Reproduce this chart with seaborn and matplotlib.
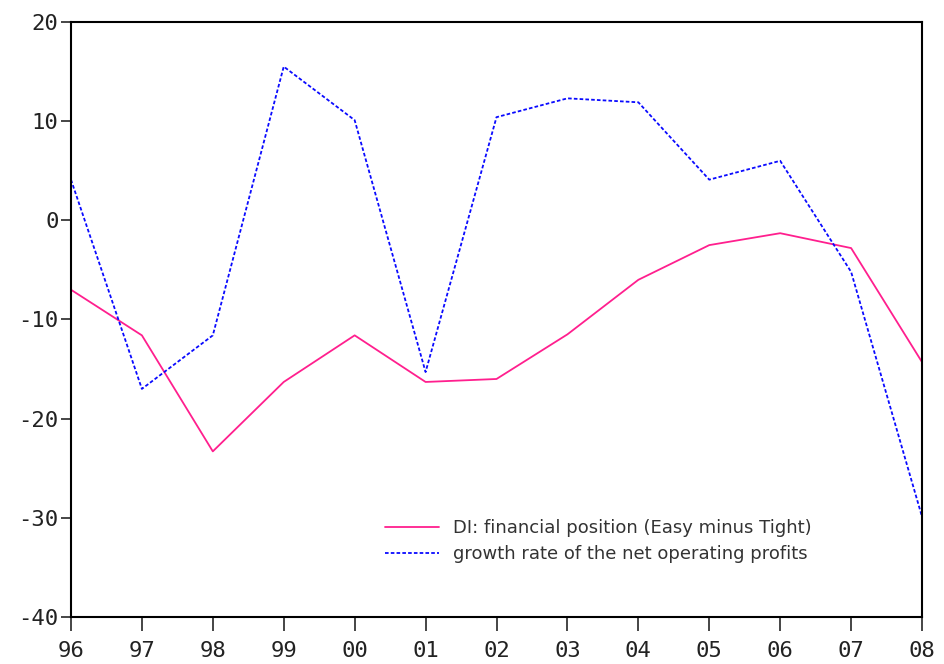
import numpy as np
import pandas as pd
import matplotlib
matplotlib.use("Agg")
import matplotlib.pyplot as plt
import seaborn as sns

years = ["96", "97", "98", "99", "00", "01", "02", "03", "04", "05", "06", "07", "08"]
di_financial = [-7.0, -11.6, -23.3, -16.3, -11.6, -16.3, -16.0, -11.5, -6.0, -2.5, -1.3, -2.8, -14.3]
profit_growth = [4.1, -17.0, -11.6, 15.5, 10.1, -15.3, 10.4, 12.3, 11.9, 4.1, 6.0, -5.2, -29.9]

label_di = "DI: financial position (Easy minus Tight)"
label_gr = "growth rate of the net operating profits"

df = pd.DataFrame({
    "idx": list(range(len(years))) * 2,
    "value": di_financial + profit_growth,
    "series": [label_di] * len(years) + [label_gr] * len(years),
})

sns.set_style("ticks")
plt.rcParams["font.family"] = ["DejaVu Sans"]
plt.rcParams["axes.unicode_minus"] = False

fig = plt.figure(figsize=(9.45, 6.64), dpi=100)
ax = fig.add_axes([0.0751, 0.0708, 0.9006, 0.8961])

sns.lineplot(data=df, x="idx", y="value", hue="series", style="series",
             palette={label_di: "#ff1f8e", label_gr: "#0a0aff"},
             dashes={label_di: "", label_gr: (2, 1.2)},
             linewidth=1.3, ax=ax)

ax.set_xlim(0, len(years) - 1)
ax.set_ylim(-40, 20)
ax.set_xticks(range(len(years)))
ax.set_xticklabels(years)
ax.set_yticks([-40, -30, -20, -10, 0, 10, 20])
ax.set_xlabel("")
ax.set_ylabel("")

for lab in ax.get_xticklabels() + ax.get_yticklabels():
    lab.set_family("DejaVu Sans Mono")
    lab.set_fontsize(16)
    lab.set_color("#222222")

ax.tick_params(axis="y", length=7, width=1.2, direction="out", pad=2)
ax.tick_params(axis="x", length=10, width=1.2, direction="out", pad=7)
for sp in ax.spines.values():
    sp.set_linewidth(1.5)
    sp.set_color("black")

leg = ax.legend(loc="upper left", bbox_to_anchor=(0.36, 0.177), frameon=False,
                fontsize=13, handlelength=3.0, handletextpad=0.8,
                labelspacing=0.45, borderaxespad=0)
for t in leg.get_texts():
    t.set_color("#333333")

fig.savefig("out.png", dpi=100)
plt.close(fig)
